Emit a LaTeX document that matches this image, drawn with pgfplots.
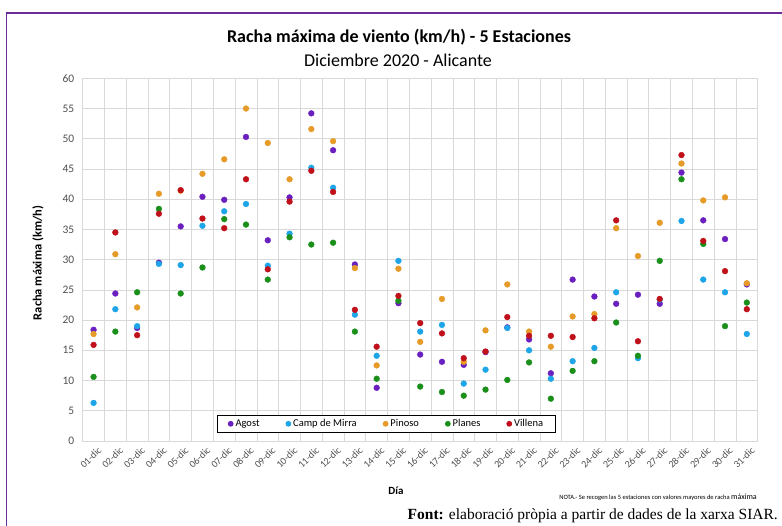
\documentclass[border=0pt]{standalone}
\usepackage{pgfplots}
\pgfplotsset{compat=1.18}
\usepackage{fontspec}
\setmainfont{Carlito}
\newfontfamily\serif{Liberation Serif}
\definecolor{cAgost}{HTML}{6A1FBF}
\definecolor{cCamp}{HTML}{1EA5E8}
\definecolor{cPinoso}{HTML}{E69B28}
\definecolor{cPlanes}{HTML}{1A8F1A}
\definecolor{cVillena}{HTML}{C0101A}
\definecolor{cBorder}{HTML}{6A2C9A}
\definecolor{cGrid}{HTML}{D9D9D9}
\definecolor{cTick}{HTML}{505050}
\begin{document}
\begin{tikzpicture}
\useasboundingbox (0pt,0pt) rectangle (782pt,526pt);
\draw[color=cBorder, line width=1.2pt] (6.3pt,-3pt) -- (6.3pt,513pt) -- (790pt,513pt);
\begin{axis}[
  at={(82.7pt,85pt)}, anchor=south west, scale only axis,
  width=675pt, height=362.7pt,
  xmin=0.5, xmax=31.5, ymin=0, ymax=60,
  ytick={0,5,...,60},
  xtick={1,...,31},
  xticklabels={01-dic,02-dic,03-dic,04-dic,05-dic,06-dic,07-dic,08-dic,09-dic,10-dic,11-dic,12-dic,13-dic,14-dic,15-dic,16-dic,17-dic,18-dic,19-dic,20-dic,21-dic,22-dic,23-dic,24-dic,25-dic,26-dic,27-dic,28-dic,29-dic,30-dic,31-dic},
  minor xtick={0.5,1.5,...,31.5},
  xminorgrids, ymajorgrids,
  grid style={color=cGrid, line width=0.7pt},
  minor grid style={color=cGrid, line width=0.7pt},
  axis line style={cGrid, line width=0.7pt},
  tick style={draw=none},
  /pgf/number format/assume math mode=true,
  yticklabel style={font=\fontsize{11.5}{13}\selectfont, text=cTick, xshift=-5pt},
  xticklabel style={font=\fontsize{10}{11}\selectfont, text=cTick, rotate=45, anchor=north east, inner sep=1pt, yshift=-5pt},
  every axis plot/.append style={only marks, mark=*, mark size=2.9pt},
  legend style={at={(0.45,0.0474)}, anchor=center, legend columns=5, draw=black, line width=0.9pt,
    font=\fontsize{10.5}{12}\selectfont, inner ysep=2pt, inner xsep=10pt,
    /tikz/every even column/.append style={column sep=24pt}},
  legend cell align=left,
  legend image code/.code={\fill (0.25cm,0cm) circle (2.4pt);},
]
\addplot[color=cAgost, mark options={fill=cAgost, draw=cAgost}] coordinates {
(1,18.4)(2,24.4)(3,18.7)(4,29.5)(5,35.5)(6,40.4)(7,39.9)(8,50.3)(9,33.2)(10,40.3)
(11,54.2)(12,48.1)(13,29.2)(14,8.8)(15,22.8)(16,14.3)(17,13.1)(18,12.6)(19,14.7)(20,18.8)
(21,16.8)(22,11.2)(23,26.7)(24,23.9)(25,22.7)(26,24.2)(27,22.7)(28,44.4)(29,36.5)(30,33.4)(31,25.9)};
\addlegendentry{Agost}
\addplot[color=cCamp, mark options={fill=cCamp, draw=cCamp}] coordinates {
(1,6.3)(2,21.8)(3,19.0)(4,29.3)(5,29.1)(6,35.6)(7,38.0)(8,39.2)(9,29.0)(10,34.3)
(11,45.2)(12,41.9)(13,20.9)(14,14.1)(15,29.8)(16,18.1)(17,19.2)(18,9.5)(19,11.8)(20,18.7)
(21,15.0)(22,10.3)(23,13.2)(24,15.4)(25,24.6)(26,13.7)(27,23.4)(28,36.4)(29,26.7)(30,24.6)(31,17.7)};
\addlegendentry{Camp de Mirra}
\addplot[color=cPinoso, mark options={fill=cPinoso, draw=cPinoso}] coordinates {
(1,17.7)(2,30.9)(3,22.1)(4,40.9)(5,41.4)(6,44.2)(7,46.6)(8,55.0)(9,49.3)(10,43.3)
(11,51.6)(12,49.6)(13,28.6)(14,12.5)(15,28.5)(16,16.4)(17,23.5)(18,13.1)(19,18.3)(20,25.9)
(21,18.1)(22,15.6)(23,20.6)(24,21.0)(25,35.2)(26,30.6)(27,36.1)(28,45.9)(29,39.8)(30,40.3)(31,26.1)};
\addlegendentry{Pinoso}
\addplot[color=cPlanes, mark options={fill=cPlanes, draw=cPlanes}] coordinates {
(1,10.6)(2,18.1)(3,24.6)(4,38.4)(5,24.4)(6,28.7)(7,36.7)(8,35.8)(9,26.7)(10,33.7)
(11,32.5)(12,32.8)(13,18.1)(14,10.3)(15,23.2)(16,9.0)(17,8.1)(18,7.5)(19,8.5)(20,10.1)
(21,13.0)(22,7.0)(23,11.6)(24,13.2)(25,19.6)(26,14.1)(27,29.8)(28,43.3)(29,32.6)(30,19.0)(31,22.9)};
\addlegendentry{Planes}
\addplot[color=cVillena, mark options={fill=cVillena, draw=cVillena}] coordinates {
(1,15.9)(2,34.5)(3,17.5)(4,37.6)(5,41.5)(6,36.8)(7,35.2)(8,43.3)(9,28.4)(10,39.6)
(11,44.7)(12,41.2)(13,21.7)(14,15.6)(15,24.0)(16,19.5)(17,17.8)(18,13.7)(19,14.8)(20,20.5)
(21,17.4)(22,17.4)(23,17.2)(24,20.3)(25,36.5)(26,16.5)(27,23.5)(28,47.3)(29,33.1)(30,28.1)(31,21.8)};
\addlegendentry{Villena}
\end{axis}
\node[font=\bfseries\fontsize{18}{21}\selectfont] at (399pt,489pt) {Racha máxima de viento (km/h) - 5 Estaciones};
\node[font=\fontsize{18}{21}\selectfont] at (398pt,466pt) {Diciembre 2020 - Alicante};
\node[font=\bfseries\fontsize{12.5}{14}\selectfont, rotate=90] at (38pt,263pt) {Racha máxima (km/h)};
\node[font=\bfseries\fontsize{11}{13}\selectfont] at (396pt,35pt) {Día};
\node[anchor=base east, inner sep=0pt] at (757pt,26pt) {{\fontsize{6.5}{7}\selectfont NOTA.- Se recogen las 5 estaciones con valores mayores de racha }{\fontsize{8}{9}\selectfont máxima}};
\node[anchor=base east, inner sep=0pt, font=\serif\fontsize{15.5}{17}\selectfont] at (778pt,6pt) {\textbf{Font:} elaboració pròpia a partir de dades de la xarxa SIAR.};
\end{tikzpicture}
\end{document}
